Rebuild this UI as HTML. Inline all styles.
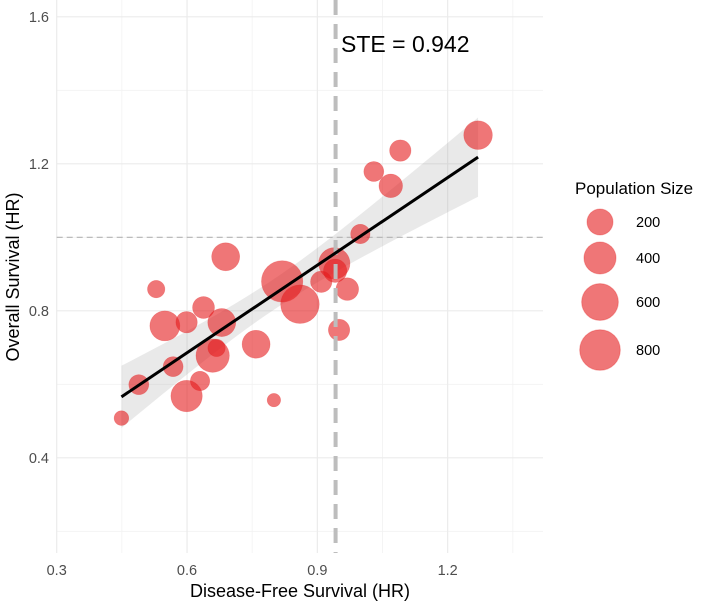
<!DOCTYPE html>
<html><head><meta charset="utf-8"><style>
body{margin:0;background:#fff}
svg{display:block;font-family:"Liberation Sans",Arial,sans-serif}
</style></head><body>
<svg id="chart" width="715" height="602" viewBox="0 0 715 602"></svg>
<script>
const xs=[0.449,0.489,0.529,0.568,0.549,0.599,0.638,0.630,0.599,0.680,0.659,0.668,0.689,0.759,0.800,0.819,0.860,0.909,0.939,0.941,0.969,0.950,0.999,1.030,1.069,1.091,1.270];
const ys=[0.508,0.599,0.859,0.648,0.759,0.769,0.809,0.609,0.568,0.768,0.678,0.699,0.947,0.709,0.557,0.880,0.818,0.879,0.929,0.909,0.859,0.748,1.009,1.179,1.140,1.236,1.278];
const ns=[10,69,34,69,325,94,105,60,376,259,454,34,259,259,4,845,695,94,376,135,118,94,60,69,140,94,278];
const xTicks=[0.3,0.6,0.9,1.2];
const yTicks=[0.4,0.8,1.2,1.6];
const xMinor=[0.45,0.75,1.05,1.35];
const yMinor=[0.2,0.6,1.0,1.4];
const legendVals=[200,400,600,800];
const steValue=0.942;
const refY=1.0;

const NS="http://www.w3.org/2000/svg";
const svg=document.getElementById('chart');
const PL=56.7,PR=543,PT=0,PB=553;
const sx=v=>56.7+(v-0.3)*434.4;
const sy=v=>16.8+(1.6-v)*367.5;
const rad=n=>5.7+0.516*Math.sqrt(n);
function mk(tag,attrs,parent){const e=document.createElementNS(NS,tag);for(const k in attrs)e.setAttribute(k,attrs[k]);(parent||svg).appendChild(e);return e;}

const grid=mk('g',{});


xMinor.forEach(v=>mk('line',{x1:sx(v),x2:sx(v),y1:PT,y2:PB,stroke:'#f2f2f2','stroke-width':0.8},grid));
yMinor.forEach(v=>mk('line',{x1:PL,x2:PR,y1:sy(v),y2:sy(v),stroke:'#f2f2f2','stroke-width':0.8},grid));
xTicks.forEach(v=>mk('line',{x1:sx(v),x2:sx(v),y1:PT,y2:PB,stroke:'#ebebeb','stroke-width':1.2},grid));
yTicks.forEach(v=>mk('line',{x1:PL,x2:PR,y1:sy(v),y2:sy(v),stroke:'#ebebeb','stroke-width':1.2},grid));

// weighted least squares (weights = population) with confidence band
const N=xs.length;
const ws=ns.map(n=>Math.sqrt(n+1));
const W=ws.reduce((a,b)=>a+b);
const mx=xs.reduce((a,x,i)=>a+ws[i]*x,0)/W,my=ys.reduce((a,y,i)=>a+ws[i]*y,0)/W;
let sxx=0,sxy=0;xs.forEach((x,i)=>{sxx+=ws[i]*(x-mx)**2;sxy+=ws[i]*(x-mx)*(ys[i]-my);});
const b1=sxy/sxx,b0=my-b1*mx;
let sse=0;xs.forEach((x,i)=>{sse+=ws[i]*(ys[i]-b0-b1*x)**2;});
const s=Math.sqrt(sse/(N-2)),tq=2.06;
const x0=Math.min(...xs),x1=Math.max(...xs);
const up=[],lo=[];
for(let k=0;k<=60;k++){const x=x0+(x1-x0)*k/60;const f=b0+b1*x;const h=tq*s*Math.sqrt(1/W+(x-mx)**2/sxx);up.push(sx(x)+','+sy(f+h));lo.unshift(sx(x)+','+sy(f-h));}
const band=mk('polygon',{points:up.concat(lo).join(' '),fill:'#999','fill-opacity':0.22});



const hl=mk('line',{x1:PL,x2:PR,y1:sy(refY),y2:sy(refY),stroke:'#b3b3b3','stroke-width':1.2,'stroke-dasharray':'6,4'});



const pts=mk('g',{});


xs.forEach((x,i)=>{const c=mk('circle',{cx:sx(x),cy:sy(ys[i]),r:rad(ns[i]),fill:'#E41A1C','fill-opacity':0.6,stroke:'#E41A1C','stroke-opacity':0.3,'stroke-width':0.6},pts);

});

const vl=mk('line',{x1:sx(steValue),x2:sx(steValue),y1:PT,y2:PB,stroke:'#bdbdbd','stroke-width':4,'stroke-dasharray':'15,9'});



const rl=mk('line',{x1:sx(x0),y1:sy(b0+b1*x0),x2:sx(x1),y2:sy(b0+b1*x1),stroke:'#000','stroke-width':3});



const ste=mk('text',{x:341,y:52,'font-size':23,fill:'#000'});ste.textContent='STE = '+steValue.toFixed(3);



xTicks.forEach(v=>{const t=mk('text',{x:sx(v),y:575,'font-size':14.5,fill:'#4d4d4d','text-anchor':'middle'});t.textContent=v.toFixed(1);

});
yTicks.forEach(v=>{const t=mk('text',{x:49,y:sy(v)+5,'font-size':14.5,fill:'#4d4d4d','text-anchor':'end'});t.textContent=v.toFixed(1);

});

const xt=mk('text',{x:300,y:597,'font-size':18,fill:'#000','text-anchor':'middle'});xt.textContent='Disease-Free Survival (HR)';


const yt=mk('text',{x:0,y:0,'font-size':18,fill:'#000','text-anchor':'middle',transform:'translate(19,277) rotate(-90)'});yt.textContent='Overall Survival (HR)';



const lg=mk('g',{});


const lt=mk('text',{x:575,y:194,'font-size':17,fill:'#000'},lg);lt.textContent='Population Size';


const lyc=[222,258,302,350];
legendVals.forEach((v,i)=>{
const c=mk('circle',{cx:600,cy:lyc[i],r:rad(v),fill:'#E41A1C','fill-opacity':0.6,stroke:'#E41A1C','stroke-opacity':0.3},lg);


const t=mk('text',{x:636,y:lyc[i]+5,'font-size':14.5,fill:'#000'},lg);t.textContent=v;

});
</script>
</body></html>
